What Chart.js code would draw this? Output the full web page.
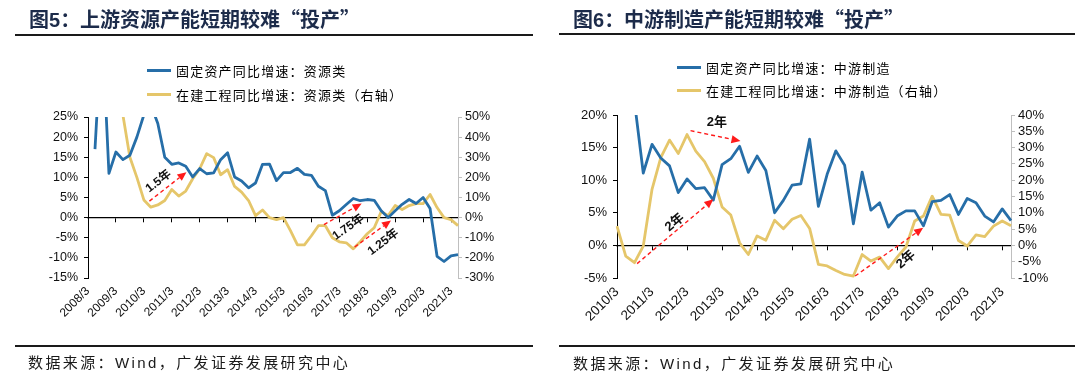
<!DOCTYPE html>
<html><head><meta charset="utf-8">
<script src="https://cdn.jsdelivr.net/npm/chart.js@4.4.0/dist/chart.umd.min.js"></script>
<style>
html,body{margin:0;padding:0;background:#fff;}
#wrap{position:relative;width:1080px;height:378px;overflow:hidden;background:#fff;}
canvas{position:absolute;top:0;}
.title{position:absolute;font:bold 20px "Noto Sans CJK SC";color:#1c2b4a;white-space:nowrap;line-height:26px;}
.rule{position:absolute;height:2px;background:#1a1a1a;}
.legend{position:absolute;font:13px "Noto Sans CJK SC";color:#000;letter-spacing:1.2px;}
.legend .row{position:absolute;left:0;white-space:nowrap;display:flex;align-items:center;height:20px;}
.legend .sw{display:inline-block;width:24px;height:3px;margin-right:5px;}
.src{position:absolute;font:15px "Noto Sans CJK SC";letter-spacing:2.4px;color:#1a1a1a;white-space:nowrap;line-height:20px;}
.lat{font-family:"Liberation Sans",Arial,sans-serif;}
</style></head>
<body>
<div id="wrap">
  <canvas id="cL" width="540" height="378" style="left:0"></canvas>
  <canvas id="cR" width="540" height="378" style="left:540px"></canvas>

  <div class="title" style="left:29px;top:6px">图<span class="lat">5</span>：上游资源产能短期较难“投产”</div>
  <div class="rule" style="left:15px;top:34px;width:518px"></div>
  <div class="legend" id="legL" style="left:147px;top:0"></div>
  <div class="rule" style="left:15px;top:345px;width:518px"></div>
  <div class="src" style="left:28px;top:352px">数据来源：<span class="lat">Wind</span>，广发证券发展研究中心</div>

  <div class="title" style="left:573px;top:6px">图<span class="lat">6</span>：中游制造产能短期较难“投产”</div>
  <div class="rule" style="left:559px;top:33px;width:516px"></div>
  <div class="legend" id="legR" style="left:677px;top:0"></div>
  <div class="rule" style="left:559px;top:345px;width:516px"></div>
  <div class="src" style="left:573px;top:353px">数据来源：<span class="lat">Wind</span>，广发证券发展研究中心</div>
</div>
<script>
// ---------- data: left chart (资源类) ----------
const catsL = ['2008/3','2008/6','2008/9','2008/12','2009/3','2009/6','2009/9','2009/12','2010/3','2010/6','2010/9','2010/12','2011/3','2011/6','2011/9','2011/12','2012/3','2012/6','2012/9','2012/12','2013/3','2013/6','2013/9','2013/12','2014/3','2014/6','2014/9','2014/12','2015/3','2015/6','2015/9','2015/12','2016/3','2016/6','2016/9','2016/12','2017/3','2017/6','2017/9','2017/12','2018/3','2018/6','2018/9','2018/12','2019/3','2019/6','2019/9','2019/12','2020/3','2020/6','2020/9','2020/12','2021/3','2021/6'];
const fixedL = [null,17,48,11,16.3,14.4,15.5,20,25.5,28,23.4,15,13.25,13.6,12.75,10.1,12.2,10.9,11.1,14.4,16.1,10.1,9.1,7.4,8.6,13.25,13.3,9.2,11.2,11.2,12.25,10.75,10.5,7.8,6.7,0.6,1.7,3.25,4.75,4.2,4.5,4.3,1.7,0,1.7,3.3,4.5,3.5,5.0,2.25,-9.6,-10.9,-9.5,-9.2];
const cipL = [null,null,null,null,62,51,30,20,8.8,5.2,6.3,8.5,14,10.7,13.2,19.3,24.3,31.8,29.8,21.3,23.8,15.5,12.7,8.5,1,3.8,0,-1,0,-6.5,-13.5,-13.5,-9,-4,-4,-10,-12,-12.5,-15.5,-12,-8,-5,3,1,6,4,6,7,7,11.5,5,0,-1,-4];
const namesL = ['固定资产同比增速：资源类','在建工程同比增速：资源类（右轴）'];
const leftTicksL = {min:-15,max:25,step:5};
const rightTicksL = {min:-30,max:50,step:10};
const notesL = [
  {text:'1.5年', from:[8.8,4.1], to:[14.1,11.3], at:[10.1,9.0], rot:-38},
  {text:'1.75年', from:[33.8,-1.74], to:[39.2,3.5], at:[37.3,-2.4], rot:-35},
  {text:'1.25年', from:[38.2,-7.3], to:[43.4,-0.7], at:[42.3,-6.1], rot:-37}
];

// ---------- data: right chart (中游制造) ----------
const catsR = ['2010/3','2010/6','2010/9','2010/12','2011/3','2011/6','2011/9','2011/12','2012/3','2012/6','2012/9','2012/12','2013/3','2013/6','2013/9','2013/12','2014/3','2014/6','2014/9','2014/12','2015/3','2015/6','2015/9','2015/12','2016/3','2016/6','2016/9','2016/12','2017/3','2017/6','2017/9','2017/12','2018/3','2018/6','2018/9','2018/12','2019/3','2019/6','2019/9','2019/12','2020/3','2020/6','2020/9','2020/12','2021/3','2021/6'];
const fixedR = [null,null,22,11.1,15.5,13.4,12.2,8.1,10.2,8.7,8.85,6.95,12.4,13.3,15.2,11.2,13.7,11.5,5.0,6.9,9.25,9.45,16.3,6.0,10.9,14.5,12.3,3.3,11.25,5.4,6.55,2.8,4.5,5.3,5.3,3.0,6.7,6.9,7.8,4.75,7.2,6.55,4.5,3.6,5.6,3.8];
const cipR = [5.9,-3.3,-5.3,-0.2,17.2,26.9,32.3,28.2,34,28.9,25.7,20.6,11.8,9.3,0.8,-2.8,2.9,1.6,7.7,5.1,8,9.2,5.2,-5.8,-6.3,-7.7,-8.9,-9.4,-2.8,-4.8,-3.6,-7.1,-3.6,-0.5,7.5,9,15.1,9.5,9.3,1.5,-0.2,3.2,2.7,5.9,7.5,6.0];
const namesR = ['固定资产同比增速：中游制造','在建工程同比增速：中游制造（右轴）'];
const leftTicksR = {min:-5,max:20,step:5};
const rightTicksR = {min:-10,max:40,step:5};
const notesR = [
  {text:'2年', from:[2.3,-2.8], to:[11.0,7.06], at:[6.6,3.5], rot:-40},
  {text:'2年', from:[8.4,17.6], to:[14.1,16.0], at:[11.4,18.8], rot:0},
  {text:'2年', from:[27.2,-4.7], to:[34.97,2.7], at:[33.0,-2.2], rot:-40}
];

const BLUE = '#266EA8';
const GOLD = '#E5C66A';
const LAT = '"Liberation Sans", Arial, sans-serif';

const arrowPlugin = {
  id:'arrows',
  afterDatasetsDraw(chart, args, opts){
    const {ctx, scales} = chart;
    const xs = scales.x, ys = scales.y;
    (opts.items||[]).forEach(a=>{
      const x1 = xs.getPixelForValue(a.from[0]), y1 = ys.getPixelForValue(a.from[1]);
      const x2 = xs.getPixelForValue(a.to[0]), y2 = ys.getPixelForValue(a.to[1]);
      const ang = Math.atan2(y2-y1, x2-x1);
      const head = 9, hw = 4;
      const bx = x2 - head*Math.cos(ang), by = y2 - head*Math.sin(ang);
      ctx.save();
      ctx.strokeStyle = '#FF1A1A'; ctx.lineWidth = 1.4; ctx.setLineDash([4,3]);
      ctx.beginPath(); ctx.moveTo(x1,y1); ctx.lineTo(bx,by); ctx.stroke();
      ctx.setLineDash([]);
      ctx.fillStyle = '#FF1A1A';
      ctx.beginPath(); ctx.moveTo(x2,y2);
      ctx.lineTo(bx + hw*Math.sin(ang), by - hw*Math.cos(ang));
      ctx.lineTo(bx - hw*Math.sin(ang), by + hw*Math.cos(ang));
      ctx.closePath(); ctx.fill();
      const lx = xs.getPixelForValue(a.at[0]), ly = ys.getPixelForValue(a.at[1]);
      ctx.translate(lx, ly); ctx.rotate(a.rot*Math.PI/180);
      ctx.font = 'bold ' + (opts.size||12) + 'px "Liberation Sans", "Noto Sans CJK SC"';
      ctx.textAlign = 'center'; ctx.textBaseline = 'middle'; ctx.fillStyle = '#111';
      ctx.fillText(a.text, 0, 0);
      ctx.restore();
    });
  }
};

function build(canvasId, legendId, cats, fixed, cip, names, lt, rt, notes, geo){
  const chart = new Chart(document.getElementById(canvasId), {
    type:'line',
    data:{labels:cats, datasets:[
      {label:names[0], data:fixed, borderColor:BLUE, backgroundColor:BLUE, xAxisID:'x', yAxisID:'y'},
      {label:names[1], data:cip, borderColor:GOLD, backgroundColor:GOLD, xAxisID:'x', yAxisID:'y1'}
    ]},
    options:{
      responsive:false, animation:false, devicePixelRatio:1,
      layout:{padding:{top:geo.top, left:0, right:0, bottom:0}},
      elements:{line:{borderWidth:2.8, tension:0, borderJoinStyle:'round'}, point:{radius:0, hoverRadius:0}},
      plugins:{legend:{display:false}, tooltip:{enabled:false}, arrows:{items:notes, size:geo.noteSize}},
      scales:{
        x:{type:'category', position:'bottom',
           grid:{display:false, drawTicks:false}, border:{display:false},
           ticks:{autoSkip:false, maxRotation:45, minRotation:45, padding:geo.xPad,
                  font:{family:LAT, size:geo.xFont}, color:'#111',
                  callback:(v,i)=> i%4===0 ? cats[i] : ''},
           afterFit:s=>{s.height = geo.xH;}},
        x0:{type:'category', axis:'x', position:{y:0},
            grid:{display:true, drawOnChartArea:false, drawTicks:true, tickLength:4, tickWidth:1,
                  tickColor:c=> (c.index%4===0 ? '#000' : 'rgba(0,0,0,0)')},
            border:{display:true, color:'#000', width:1.3},
            ticks:{display:false}},
        y:{position:'left', min:lt.min, max:lt.max,
           ticks:{stepSize:lt.step, autoSkip:false, padding:geo.yPad, font:{family:LAT, size:geo.yFont}, color:'#111',
                  callback:v=> v+'%'},
           grid:{drawOnChartArea:false, drawTicks:true, tickLength:4, color:'#000'},
           border:{display:true, color:'#000', width:1},
           afterFit:s=>{s.width = geo.yW;}},
        y1:{position:'right', min:rt.min, max:rt.max,
           ticks:{stepSize:rt.step, autoSkip:false, padding:geo.y1Pad, font:{family:LAT, size:geo.yFont}, color:'#111',
                  callback:v=> v+'%'},
           grid:{drawOnChartArea:false, drawTicks:true, tickLength:4, color:'#BFBFBF'},
           border:{display:true, color:'#BFBFBF', width:1},
           afterFit:s=>{s.width = geo.y1W;}}
      }
    },
    plugins:[arrowPlugin]
  });
  // HTML legend generated from the chart's datasets
  const leg = document.getElementById(legendId);
  chart.data.datasets.forEach((ds,k)=>{
    const row = document.createElement('div');
    row.className = 'row';
    row.style.top = (geo.legTop + k*geo.legGap) + 'px';
    const sw = document.createElement('span'); sw.className='sw'; sw.style.background = ds.borderColor;
    const tx = document.createElement('span'); tx.textContent = ds.label;
    row.appendChild(sw); row.appendChild(tx); leg.appendChild(row);
  });
  return chart;
}

build('cL','legL',catsL,fixedL,cipL,namesL,leftTicksL,rightTicksL,notesL,
  {top:117, xH:100, yW:88, y1W:82, xFont:12, yFont:12.5, xPad:6, yPad:6, y1Pad:3, noteSize:12, legTop:60.7, legGap:23.3});
build('cR','legR',catsR,fixedR,cipR,namesR,leftTicksR,rightTicksR,notesR,
  {top:115, xH:100, yW:77, y1W:69, xFont:13.5, yFont:13, xPad:6, yPad:6, y1Pad:3, noteSize:13, legTop:57, legGap:23});
</script>
</body></html>
